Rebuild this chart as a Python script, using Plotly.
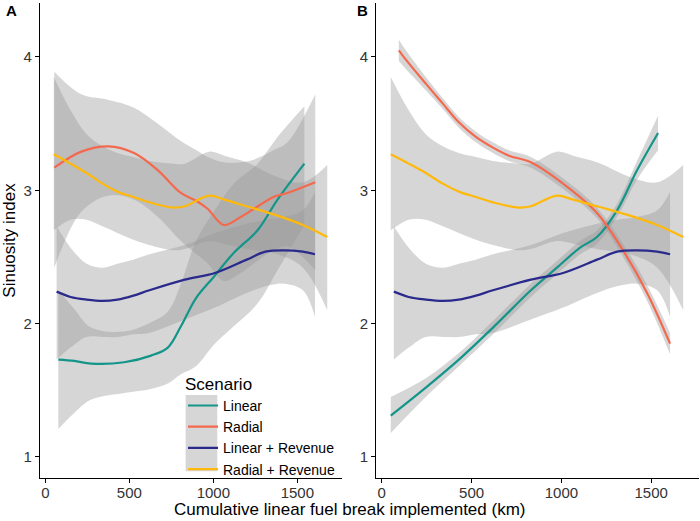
import plotly.graph_objects as go

# ---------------- data ----------------
series_names = ["Linear", "Radial", "Linear + Revenue", "Radial + Revenue"]
series_colors = ["#14958A", "#F4694E", "#2A2A8C", "#FFB90A"]

# Shared series (same in both panels)
linrev_x = [67, 150, 245, 340, 429, 524, 619, 830, 1009, 1198, 1310, 1421, 1533, 1605]
linrev_y = [2.24, 2.20, 2.18, 2.17, 2.18, 2.21, 2.25, 2.33, 2.38, 2.48, 2.54, 2.55, 2.54, 2.52]
linrev_hi = [2.73, 2.57, 2.45, 2.42, 2.45, 2.48, 2.52, 2.59, 2.68, 2.75, 2.78, 2.80, 2.85, 2.99]
linrev_lo = [1.73, 1.82, 1.90, 1.90, 1.90, 1.92, 1.93, 2.03, 2.12, 2.23, 2.28, 2.30, 2.25, 2.05]

radrev_x = [50, 150, 245, 340, 429, 524, 619, 764, 830, 975, 1065, 1198, 1382, 1533, 1678]
radrev_y = [3.27, 3.20, 3.13, 3.05, 2.99, 2.95, 2.91, 2.87, 2.88, 2.96, 2.93, 2.88, 2.81, 2.74, 2.65]
radrev_hi = [3.85, 3.60, 3.42, 3.33, 3.28, 3.25, 3.22, 3.20, 3.20, 3.29, 3.26, 3.21, 3.10, 3.06, 3.19]
radrev_lo = [2.70, 2.78, 2.78, 2.73, 2.68, 2.63, 2.59, 2.55, 2.56, 2.62, 2.60, 2.56, 2.52, 2.42, 2.10]

# Panel A
linA_x = [77, 172, 273, 469, 629, 729, 807, 896, 1002, 1121, 1263, 1382, 1542]
linA_y = [1.73, 1.72, 1.70, 1.71, 1.76, 1.82, 1.98, 2.19, 2.35, 2.53, 2.70, 2.93, 3.20]
linA_lo = [1.21, 1.33, 1.43, 1.48, 1.51, 1.55, 1.62, 1.68, 1.84, 1.98, 2.15, 2.40, 2.74]
linA_hi = [2.25, 2.11, 1.97, 1.94, 2.01, 2.09, 2.30, 2.62, 2.84, 3.05, 3.20, 3.40, 3.63]

radA_x = [53, 214, 373, 528, 670, 807, 900, 967, 1062, 1163, 1240, 1358, 1441, 1607]
radA_y = [3.17, 3.29, 3.33, 3.28, 3.15, 2.98, 2.92, 2.86, 2.74, 2.80, 2.86, 2.95, 2.98, 3.06]
radA_hi = [3.89, 3.72, 3.68, 3.62, 3.50, 3.37, 3.30, 3.25, 3.21, 3.21, 3.23, 3.30, 3.36, 3.72]
radA_lo = [2.42, 2.84, 2.96, 2.93, 2.80, 2.62, 2.52, 2.45, 2.32, 2.38, 2.45, 2.55, 2.58, 2.40]

# Panel B
linB_x = [50, 245, 429, 619, 830, 975, 1104, 1198, 1310, 1421, 1538]
linB_y = [1.31, 1.52, 1.73, 1.97, 2.25, 2.42, 2.57, 2.65, 2.85, 3.15, 3.43]
linB_lo = [1.18, 1.45, 1.68, 1.92, 2.20, 2.37, 2.52, 2.60, 2.80, 3.08, 3.30]
linB_hi = [1.45, 1.59, 1.78, 2.02, 2.30, 2.47, 2.62, 2.70, 2.90, 3.22, 3.56]

radB_x = [95, 134, 245, 340, 429, 524, 619, 708, 830, 1009, 1198, 1343, 1477, 1605]
radB_y = [4.05, 3.98, 3.80, 3.65, 3.51, 3.40, 3.32, 3.26, 3.21, 3.05, 2.83, 2.55, 2.23, 1.85]
radB_lo = [3.97, 3.91, 3.75, 3.61, 3.47, 3.36, 3.28, 3.22, 3.17, 3.01, 2.79, 2.50, 2.17, 1.77]
radB_hi = [4.13, 4.05, 3.85, 3.69, 3.55, 3.44, 3.36, 3.30, 3.25, 3.09, 2.87, 2.60, 2.29, 1.93]

x_ticks = [0, 500, 1000, 1500]
y_ticks = [1, 2, 3, 4]
x_title = "Cumulative linear fuel break implemented (km)"
y_title = "Sinuosity index"
legend_title = "Scenario"
panel_labels = ["A", "B"]

panels = {
    "A": [(linA_x, linA_y, linA_lo, linA_hi),
          (radA_x, radA_y, radA_lo, radA_hi),
          (linrev_x, linrev_y, linrev_lo, linrev_hi),
          (radrev_x, radrev_y, radrev_lo, radrev_hi)],
    "B": [(linB_x, linB_y, linB_lo, linB_hi),
          (radB_x, radB_y, radB_lo, radB_hi),
          (linrev_x, linrev_y, linrev_lo, linrev_hi),
          (radrev_x, radrev_y, radrev_lo, radrev_hi)],
}

FONT = "Liberation Sans, Arial, Helvetica, sans-serif"
BAND = "rgba(153,153,153,0.4)"

fig = go.Figure()
axes = {"A": ("x", "y"), "B": ("x2", "y2")}

for p, data in panels.items():
    xa, ya = axes[p]
    # bands first
    for (xs, ys, lo, hi) in data:
        fig.add_trace(go.Scatter(x=xs, y=lo, xaxis=xa, yaxis=ya, mode="lines",
                                 line=dict(width=0, shape="spline", smoothing=1.0),
                                 showlegend=False, hoverinfo="skip"))
        fig.add_trace(go.Scatter(x=xs, y=hi, xaxis=xa, yaxis=ya, mode="lines",
                                 line=dict(width=0, shape="spline", smoothing=1.0),
                                 fill="tonexty", fillcolor=BAND,
                                 showlegend=False, hoverinfo="skip"))
    # lines on top
    for i, (xs, ys, lo, hi) in enumerate(data):
        fig.add_trace(go.Scatter(x=xs, y=ys, xaxis=xa, yaxis=ya, mode="lines",
                                 name=series_names[i],
                                 line=dict(color=series_colors[i], width=2.2,
                                           shape="spline", smoothing=1.0),
                                 showlegend=(p == "A"), legendrank=i + 1))

axis_common = dict(showline=True, linecolor="black", linewidth=1.1,
                   ticks="outside", ticklen=4, tickcolor="black", tickwidth=1.1,
                   showgrid=False, zeroline=False,
                   tickfont=dict(size=15, color="#333333", family=FONT))

xr = [-32, 1766]
yr = [0.842, 4.405]

# legend placement (paper coords); key background box sits behind the keys
leg_x = 0.217
leg_y = 0.232

fig.update_layout(
    width=700, height=521,
    margin=dict(l=40, r=1, t=3, b=43),
    paper_bgcolor="white", plot_bgcolor="white",
    font=dict(family=FONT, color="black"),
    xaxis=dict(domain=[0, 0.4583], range=xr, tickvals=x_ticks,
               ticklabelstandoff=-3, **axis_common),
    xaxis2=dict(domain=[0.5099, 1], range=xr, tickvals=x_ticks,
                ticklabelstandoff=-3, **axis_common),
    yaxis=dict(range=yr, tickvals=y_ticks, anchor="x",
               title=dict(text=y_title, font=dict(size=17, family=FONT), standoff=6),
               **axis_common),
    yaxis2=dict(range=yr, tickvals=y_ticks, anchor="x2", **axis_common),
    legend=dict(x=leg_x, y=leg_y, xanchor="left", yanchor="top",
                bgcolor="rgba(0,0,0,0)", borderwidth=0,
                title=dict(text=legend_title, font=dict(size=17, family=FONT)),
                font=dict(size=14, family=FONT), traceorder="normal",
                itemwidth=30),
    shapes=[dict(type="rect", xref="paper", yref="paper",
                 x0=leg_x + 0.004, x1=leg_x + 0.052, y0=0.014, y1=0.175,
                 fillcolor="rgba(153,153,153,0.4)", line=dict(width=0),
                 layer="above")],
    annotations=[
        dict(text="<b>%s</b>" % panel_labels[0], xref="paper", yref="paper",
             x=-0.055, y=0.985, xanchor="left", yanchor="middle", showarrow=False,
             font=dict(size=15, family=FONT)),
        dict(text="<b>%s</b>" % panel_labels[1], xref="paper", yref="paper",
             x=0.478, y=0.985, xanchor="left", yanchor="middle", showarrow=False,
             font=dict(size=15, family=FONT)),
        dict(text=x_title, xref="paper", yref="paper", x=0.47, y=-0.066,
             xanchor="center", yanchor="middle", showarrow=False,
             font=dict(size=17, family=FONT)),
    ],
)

fig.write_html("out.html", config={"displayModeBar": False},
               post_script="document.body.style.margin='0';")
